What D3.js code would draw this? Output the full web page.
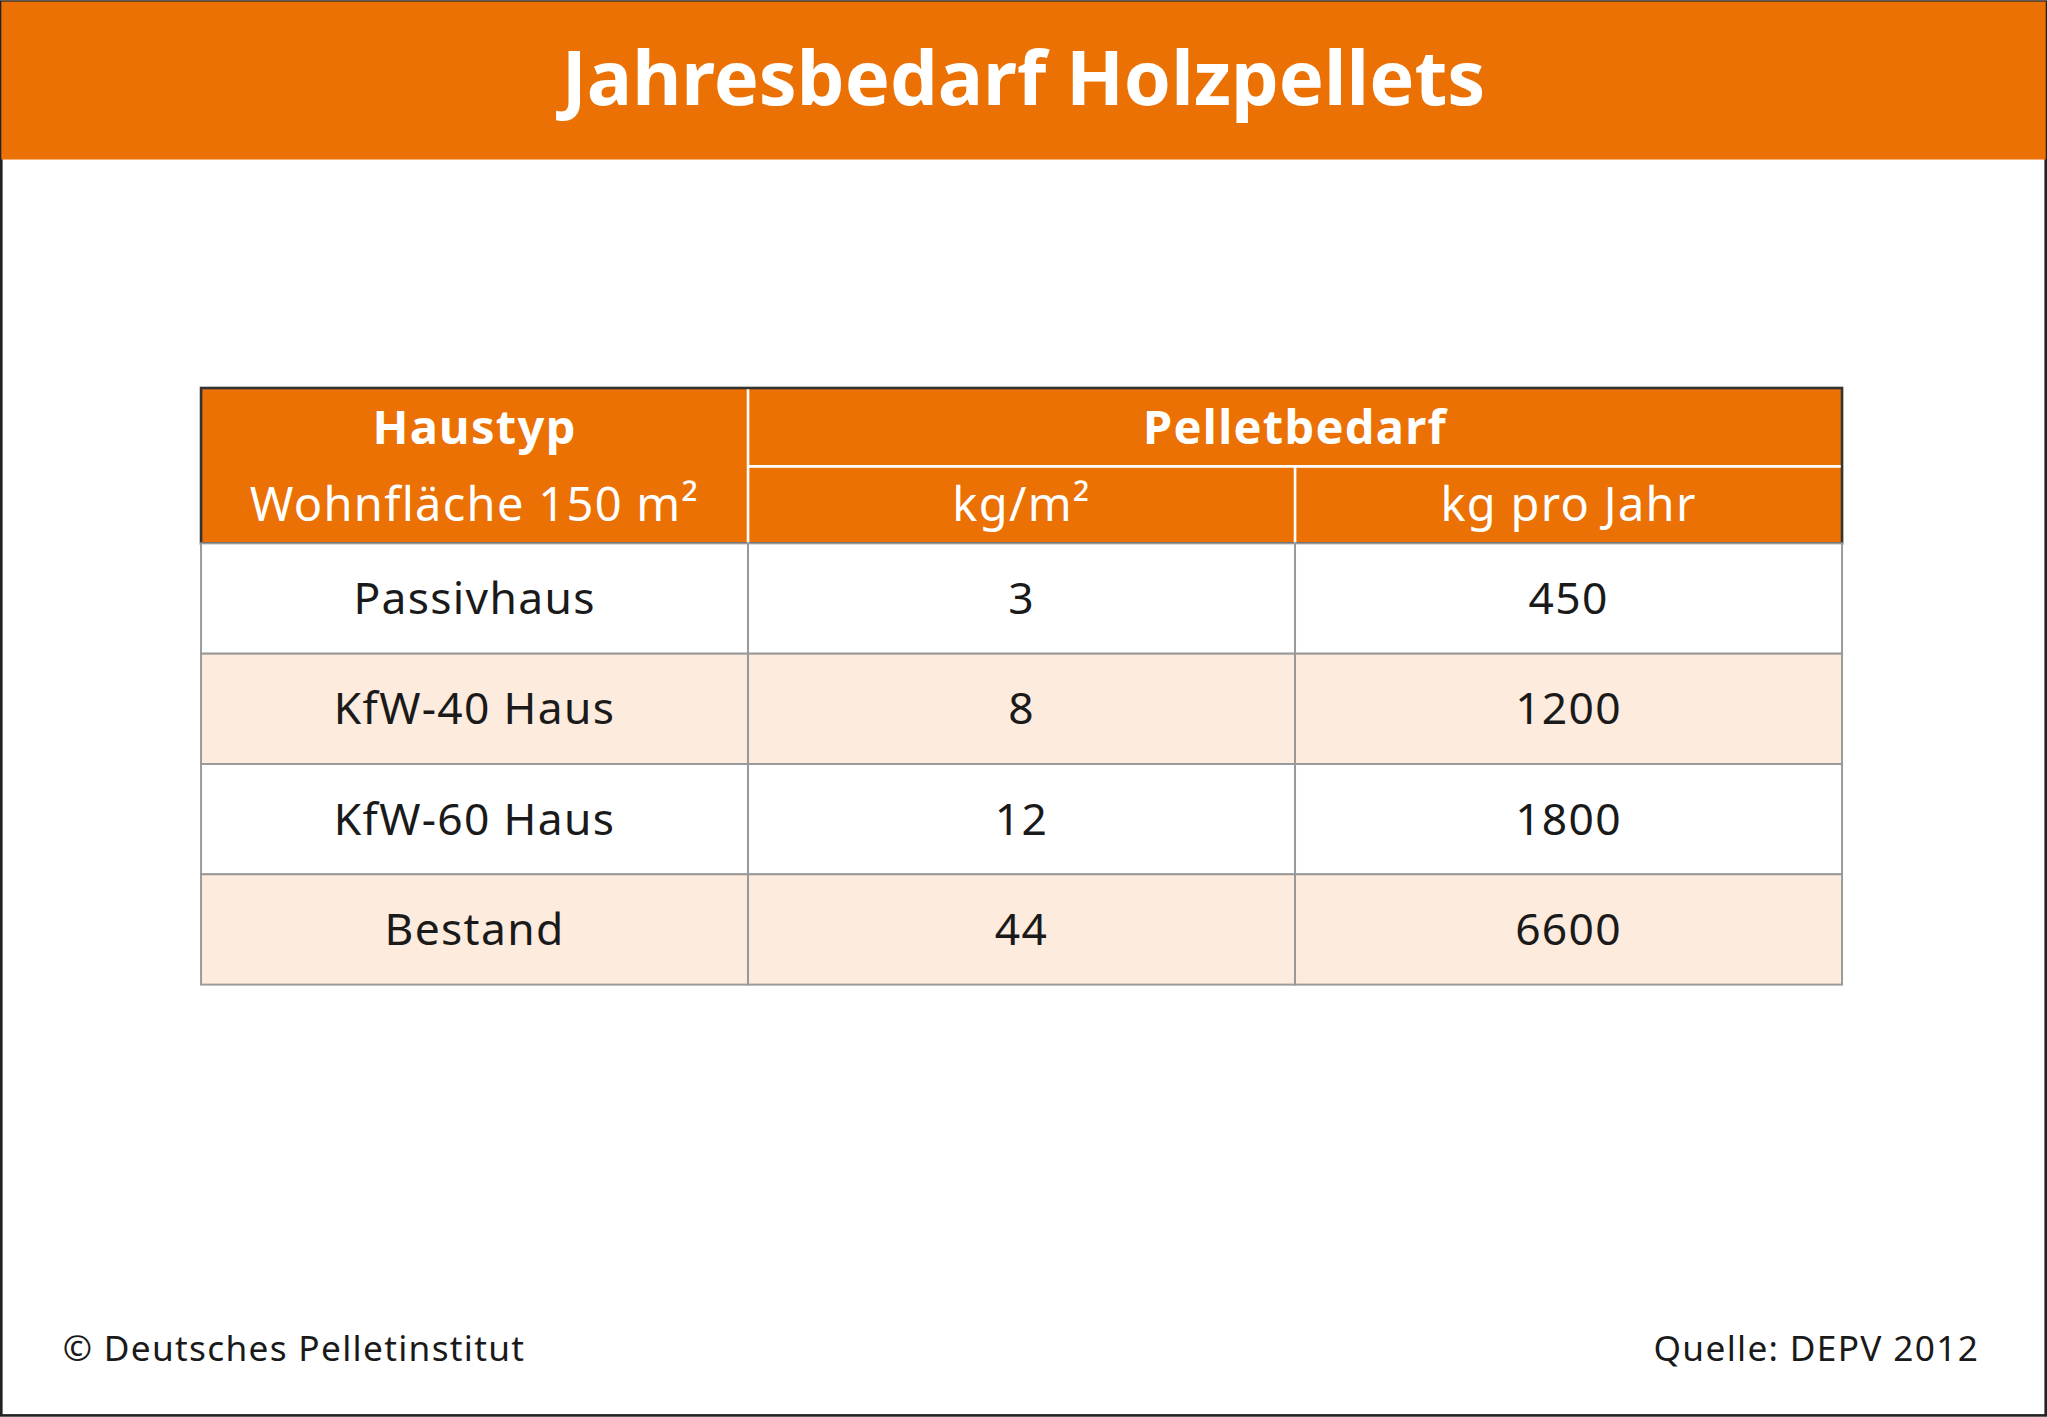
<!DOCTYPE html>
<html><head><meta charset="utf-8">
<script src="https://cdn.jsdelivr.net/npm/d3@7"></script>
<style>body{margin:0;background:#fff}</style></head>
<body><svg id="c"></svg>
<script>
const title = "Jahresbedarf Holzpellets";
const colHeaders = ["kg/m²", "kg pro Jahr"];
const categories = ["Passivhaus", "KfW-40 Haus", "KfW-60 Haus", "Bestand"];
const kgPerM2 = [3, 8, 12, 44];
const kgPerYear = [450, 1200, 1800, 6600];

const W = 1568, H = 1085, O = "#EC7104", F = "'Noto Sans', sans-serif";
const svg = d3.select("#c").attr("width", 2047).attr("height", 1417).attr("viewBox", `0 0 ${W} ${H}`);
svg.append("rect").attr("x",1).attr("y",1).attr("width",W-2).attr("height",H-2).attr("fill","#fff").attr("stroke","#222").attr("stroke-width",2);
svg.append("rect").attr("x",1).attr("y",1).attr("width",W-2).attr("height",121).attr("fill",O);
svg.append("text").attr("x",W/2).attr("y",80).attr("text-anchor","middle").attr("fill","#fff")
  .attr("font-family",F).attr("font-weight","bold").attr("font-size",58).text(title);

const x = d3.scaleBand().domain([0,1,2]).range([154,1411]);
const y = d3.scaleBand().domain(categories).range([416,754]);
const tb = 297, th = 416, mid = 357;
// header
svg.append("rect").attr("x",154).attr("y",tb).attr("width",1257).attr("height",th-tb).attr("fill",O).attr("stroke","#333").attr("stroke-width",2);
const wl = (x1,y1,x2,y2)=>svg.append("line").attr("x1",x1).attr("y1",y1).attr("x2",x2).attr("y2",y2).attr("stroke","#fff").attr("stroke-width",2);
wl(x(1),tb+1,x(1),th); wl(x(2),mid,x(2),th); wl(x(1),mid,1410,mid);
const t = (xx,yy,s,sz,bold,col)=>svg.append("text").attr("x",xx).attr("y",yy).attr("text-anchor","middle").attr("fill",col||"#fff")
  .attr("font-family",F).attr("font-size",sz).attr("font-weight",bold?"bold":"normal").attr("letter-spacing",1).text(s);
t(x(0)+x.bandwidth()/2,340,"Haustyp",36,true);
t(x(0)+x.bandwidth()/2,399,"Wohnfläche 150 m²",36,false);
t((x(1)+1411)/2,340,"Pelletbedarf",36,true);
colHeaders.forEach((h,i)=>t(x(i+1)+x.bandwidth()/2,399,h,36,false));
// rows
categories.forEach((c,i)=>{
  const vals=[c,kgPerM2[i],kgPerYear[i]];
  vals.forEach((v,j)=>{
    svg.append("rect").attr("x",x(j)).attr("y",y(c)).attr("width",x.bandwidth()).attr("height",y.bandwidth())
      .attr("fill",i%2?"#FDEBDD":"#fff").attr("stroke","#999").attr("stroke-width",1.5);
    t(x(j)+x.bandwidth()/2,y(c)+y.bandwidth()/2+12,String(v),34,false,"#1a1a1a");
  });
});
svg.append("text").attr("x",48).attr("y",1042).attr("font-family",F).attr("font-size",27).attr("fill","#1a1a1a").attr("letter-spacing",1).text("© Deutsches Pelletinstitut");
svg.append("text").attr("x",1516).attr("y",1042).attr("text-anchor","end").attr("font-family",F).attr("font-size",27).attr("fill","#1a1a1a").attr("letter-spacing",1).text("Quelle: DEPV 2012");
</script></body></html>
